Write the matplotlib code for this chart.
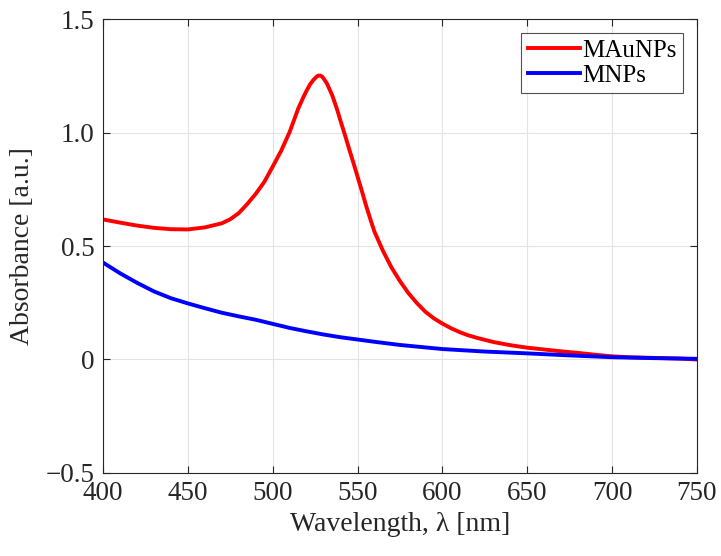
import matplotlib
matplotlib.use('Agg')
import matplotlib.pyplot as plt

# spectra
wl_mau = [400, 410, 420, 430, 440, 450, 460, 470, 475, 480, 485, 490, 495, 500,
          505, 510, 515, 518, 520, 522, 524, 526, 527, 528, 529, 530, 532, 535,
          538, 540, 543, 545, 548, 550, 553, 555, 558, 560, 565, 570, 575, 580,
          585, 590, 595, 600, 605, 610, 615, 620, 630, 640, 650, 660, 670, 680,
          690, 700, 710, 720, 730, 740, 750]
abs_mau = [0.617, 0.603, 0.590, 0.580, 0.574, 0.573, 0.582, 0.600, 0.618, 0.645,
           0.685, 0.730, 0.782, 0.850, 0.920, 1.003, 1.105, 1.155, 1.185, 1.212,
           1.232, 1.247, 1.251, 1.251, 1.247, 1.238, 1.215, 1.165, 1.100, 1.050,
           0.978, 0.928, 0.855, 0.805, 0.730, 0.678, 0.607, 0.562, 0.478, 0.405,
           0.345, 0.292, 0.248, 0.210, 0.181, 0.158, 0.138, 0.121, 0.107, 0.096,
           0.077, 0.063, 0.052, 0.044, 0.036, 0.029, 0.021, 0.014, 0.010, 0.008,
           0.006, 0.004, 0.000]

wl_mnp = [400, 410, 420, 430, 440, 450, 460, 470, 480, 490, 500, 510, 520, 530,
          540, 550, 560, 575, 600, 625, 650, 675, 700, 725, 750]
abs_mnp = [0.427, 0.380, 0.338, 0.300, 0.270, 0.247, 0.226, 0.206, 0.190, 0.175,
           0.157, 0.139, 0.124, 0.110, 0.098, 0.088, 0.078, 0.064, 0.046, 0.035,
           0.027, 0.018, 0.010, 0.006, 0.003]

x_ticks = [400, 450, 500, 550, 600, 650, 700, 750]
y_ticks = [-0.5, 0, 0.5, 1.0, 1.5]
y_labels = ['\u22120.5', '0', '0.5', '1.0', '1.5']

plt.rcParams['font.family'] = ['Liberation Serif', 'DejaVu Serif']

fig = plt.figure(figsize=(7.21, 5.56), dpi=100)
ax = fig.add_axes([0.1429, 0.1493, 0.8238, 0.8165])

ax.plot(wl_mau, abs_mau, color='#ff0000', lw=2.8, label='MAuNPs')
ax.plot(wl_mnp, abs_mnp, color='#0000ff', lw=2.8, label='MNPs')

ax.set_xlim(400, 750)
ax.set_ylim(-0.5, 1.5)
ax.set_xticks(x_ticks)
ax.set_yticks(y_ticks)
ax.set_yticklabels(y_labels)
ax.tick_params(direction='in', length=5, width=0.8, top=True, right=True,
               labelsize=19.5, colors='#262626', pad=6)
for s in ax.spines.values():
    s.set_color('#262626')
    s.set_linewidth(0.8)
ax.grid(True, color='#e3e3e3', lw=0.8)
ax.set_axisbelow(True)

ax.set_xlabel('Wavelength, \u03bb [nm]', fontsize=20, color='#262626', labelpad=4)
ax.set_ylabel('Absorbance [a.u.]', fontsize=20, color='#262626', labelpad=8)

leg = ax.legend(loc='upper right', fontsize=18, frameon=True, fancybox=False,
                edgecolor='#262626', handlelength=2.1, handletextpad=0.1,
                borderpad=0.25, labelspacing=0.12, borderaxespad=0.55)
leg.get_frame().set_linewidth(0.8)

fig.savefig('out.png', dpi=100)
